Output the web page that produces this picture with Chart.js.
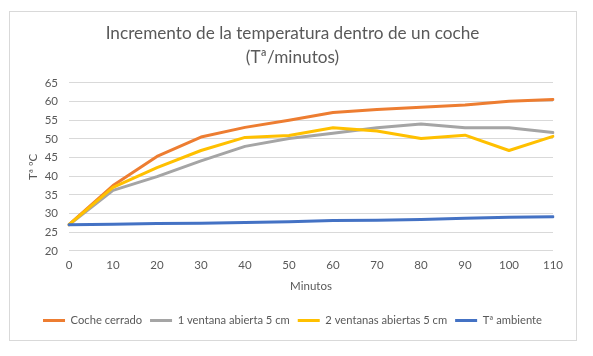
<!DOCTYPE html>
<html>
<head>
<meta charset="utf-8">
<script src="https://cdn.jsdelivr.net/npm/chart.js@4/dist/chart.umd.min.js"></script>
<style>
  html, body { margin: 0; padding: 0; background: #ffffff; }
  #wrap { position: relative; width: 593px; height: 356px; }
  #frame { position: absolute; left: 9px; top: 11px; width: 568px; height: 330px; box-sizing: border-box; border: 1px solid #d9d9d9; pointer-events: none; }
  canvas { position: absolute; left: 0; top: 0; }
</style>
</head>
<body>
<div id="wrap">
  <canvas id="c" width="593" height="356"></canvas>
  <div id="frame"></div>
</div>
<script>
// ---- data ----
const minutes = ['0', '10', '20', '30', '40', '50', '60', '70', '80', '90', '100', '110'];
const cocheCerrado = [27, 37.5, 45.3, 50.5, 53.1, 55, 57.1, 57.9, 58.5, 59.1, 60.1, 60.6];
const unaVentana = [27, 36.2, 39.9, 44.1, 48, 50.1, 51.5, 53, 54, 53, 53, 51.7];
const dosVentanas = [27, 37, 42.3, 46.9, 50.4, 50.9, 53, 52.1, 50.1, 51, 46.9, 50.7];
const tAmbiente = [27, 27.1, 27.3, 27.4, 27.6, 27.8, 28.1, 28.2, 28.4, 28.7, 29, 29.1];
const seriesNames = ['Coche cerrado', '1 ventana abierta 5 cm', '2 ventanas abiertas 5 cm', 'Tª ambiente'];
const yTicks = { min: 20, max: 65, step: 5 };
const titleLines = ['Incremento de la temperatura dentro de un coche', '(Tª/minutos)'];

const TXT = '#595959';
const GRID = '#d9d9d9';
Chart.defaults.font.family = 'Lato, Carlito, Calibri, sans-serif';
Chart.defaults.color = TXT;

function ds(label, data, color, order) {
  return { label, data, borderColor: color, backgroundColor: color, borderWidth: 3,
           pointRadius: 0, tension: 0, fill: false, order,
           borderCapStyle: 'round', borderJoinStyle: 'round' };
}

new Chart(document.getElementById('c'), {
  type: 'line',
  data: {
    labels: minutes,
    datasets: [
      ds(seriesNames[0], cocheCerrado, '#ED7D31', 4),
      ds(seriesNames[1], unaVentana, '#A5A5A5', 3),
      ds(seriesNames[2], dosVentanas, '#FFC000', 2),
      ds(seriesNames[3], tAmbiente, '#4472C4', 1)
    ]
  },
  options: {
    responsive: false,
    animation: false,
    layout: { padding: { left: 9, right: 17, top: 0, bottom: 20 } },
    plugins: {
      tooltip: { enabled: false },
      title: {
        display: true,
        text: titleLines,
        color: TXT,
        font: { size: 17.2, weight: 'normal', lineHeight: 1.395 },
        padding: { top: 21, bottom: 14 }
      },
      legend: {
        position: 'bottom',
        labels: {
          boxWidth: 22,
          boxHeight: 3,
          padding: 8,
          color: TXT,
          font: { size: 11.2 },
          sort: (a, b) => a.datasetIndex - b.datasetIndex,
          generateLabels: (chart) => {
            const items = Chart.defaults.plugins.legend.labels.generateLabels(chart);
            items.forEach(it => { it.lineWidth = 0; });
            return items;
          }
        }
      }
    },
    scales: {
      x: {
        type: 'category',
        offset: false,
        grid: { display: false, drawTicks: false },
        border: { display: false },
        ticks: { padding: 8, color: TXT, font: { size: 11.5 }, maxRotation: 0, autoSkip: false },
        title: { display: true, text: 'Minutos', color: TXT, font: { size: 11.5 }, padding: { top: 0, bottom: 14 } },
        afterFit: (s) => { s.height = 56; }
      },
      y: {
        min: yTicks.min,
        max: yTicks.max,
        grid: { color: GRID, drawTicks: false, lineWidth: 1 },
        border: { display: false },
        ticks: { stepSize: yTicks.step, padding: 11, color: TXT, font: { size: 11.5 } },
        title: { display: true, text: 'Tª ºC', color: TXT, font: { size: 11.5 }, padding: { top: 17, bottom: 0 } },
        afterFit: (s) => { s.width = 60; }
      },
      yRight: {
        position: 'right',
        display: true,
        grid: { display: false, drawTicks: false },
        border: { display: false },
        ticks: { display: false },
        afterFit: (s) => { s.width = 23; }
      }
    }
  }
});
</script>
</body>
</html>
